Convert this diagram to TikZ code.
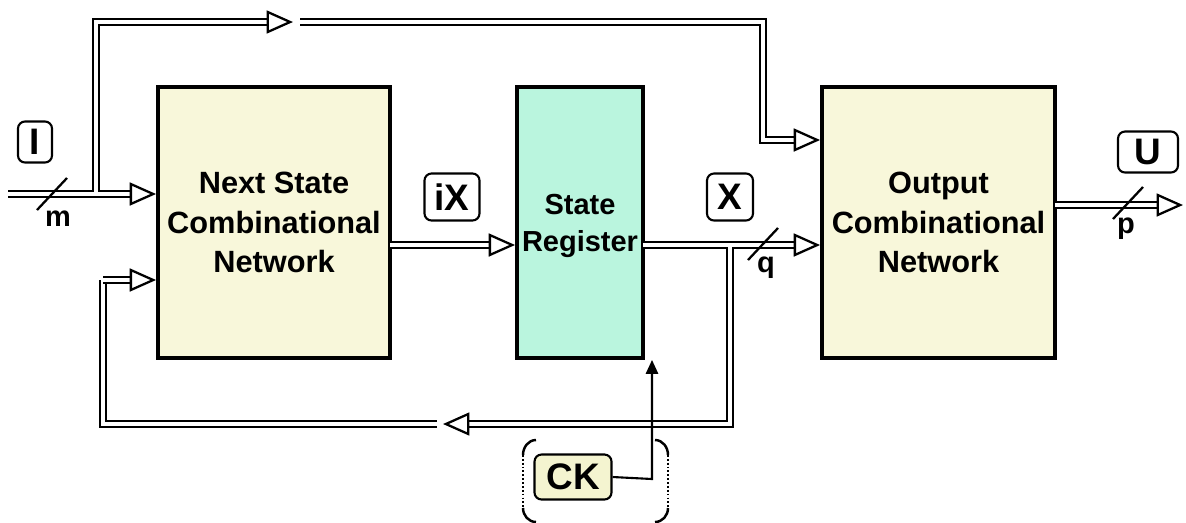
\documentclass[tikz,border=0pt]{standalone}
\usepackage{fontspec}
\setmainfont{Liberation Sans}
\usetikzlibrary{arrows.meta,calc,positioning}

\definecolor{combfill}{RGB}{248,247,218}
\definecolor{regfill}{RGB}{186,245,222}
\definecolor{ckfill}{RGB}{244,244,208}

\tikzset{
  blockbox/.style={draw,line width=2.2pt,minimum height=5.42cm,align=center,
    font=\fontsize{17.5}{22.5}\selectfont\bfseries},
  tag/.style={draw,line width=1.2pt,rounded corners=4pt,fill=white,inner sep=0pt,
    minimum height=0.86cm,font=\fontsize{21}{24}\selectfont\bfseries},
  busline/.style={line width=1.35pt,double=white,double distance=1.8pt},
  bus/.style={busline,-{Triangle[fill=white,length=15pt,width=13pt,line width=1.3pt]}},
  clk/.style={line width=1.2pt,-{Triangle[length=8pt,width=7pt]}},
  slash/.style={line width=1.3pt},
  buswidth/.style={font=\fontsize{16.5}{18}\selectfont\bfseries,inner sep=0pt},
  bracket/.style={line width=1.4pt}
}

\begin{document}
\begin{tikzpicture}[x=0.02cm,y=-0.02cm]
    \useasboundingbox (0,0) rectangle (1186,522);

    % blocks
    \node[blockbox,fill=combfill,minimum width=4.64cm] (nsc) at (274,222.5) {Next State\\Combinational\\Network};
    \node[blockbox,fill=regfill,minimum width=2.52cm] (sr) at (580,222.5) {};
    \node[align=center,font=\fontsize{16.5}{21.5}\selectfont\bfseries] (srtext) at (580,226) {State\\Register};
    \node[blockbox,fill=combfill,minimum width=4.66cm] (ocn) at (938.5,222.5) {Output\\Combinational\\Network};

    % input bus and the branch over the top
    \coordinate (in) at (8,194);
    \coordinate (tap) at (96,194);
    \coordinate (brk) at (293,22);
    \coordinate (brk2) at (300,22);
    \coordinate (drop) at (763,140);
    \draw[bus] (in) -- (nsc.west |- in);
    \draw[bus] (tap) |- (brk);
    \fill[white] ($(tap)+(-2.2pt,-0.9pt)$) rectangle ($(tap)+(2.2pt,0.9pt)$);
    \draw[bus] (brk2) -| (drop) -- (ocn.west |- drop);

    % next state to register
    \coordinate (ix) at (390,245);
    \draw[bus] (ix) -- (sr.west |- ix);

    % state to output, feedback
    \coordinate (xo) at (643,245);
    \coordinate (fb) at (730,245);
    \coordinate (fbl) at (443,424);
    \coordinate (fbl2) at (437,424);
    \coordinate (fbin) at (103,280);
    \draw[bus] (xo) -- (ocn.west |- xo);
    \draw[bus] (fb) |- (fbl);
    \fill[white] ($(fb)+(-2.2pt,-0.9pt)$) rectangle ($(fb)+(2.2pt,0.9pt)$);
    \draw[busline] (fbl2) -| (fbin);
    \draw[bus] (fbin) -- (nsc.west |- fbin);

    % output bus
    \coordinate (uo) at (1055,205);
    \coordinate (uend) at (1183,205);
    \draw[bus] (uo) -- (uend);

    % bus widths
    \coordinate (ms) at (52,194);
    \coordinate (qs) at (763,244);
    \coordinate (ps) at (1128,203);
    \foreach \s in {ms,qs,ps}
      \draw[slash] ($(\s)+(-15,16)$) -- ($(\s)+(15,-16)$);
    \node[buswidth] (m) at (58,219) {m};
    \node[buswidth] (q) at (766,268) {q};
    \node[buswidth] (p) at (1126,229) {p};

    % tags
    \node[tag,minimum width=0.68cm,minimum height=0.82cm] (tI) at (35,142) {I};
    \node[tag,minimum width=1.1cm,minimum height=0.94cm] (tiX) at (452,197) {iX};
    \node[tag,minimum width=0.92cm,minimum height=0.94cm] (tX) at (730,197) {X};
    \node[tag,minimum width=1.2cm,minimum height=0.82cm] (tU) at (1148,152) {U};

    % clock
    \node[tag,fill=ckfill,minimum width=1.54cm,minimum height=0.9cm] (ck) at (573,477) {CK};
    \coordinate (ckc) at (652,479);
    \draw[clk] (ck.east) -- (ckc) -- (ckc |- sr.south);

    \draw[bracket] (536,440) to[out=180,in=90] (523,455);
    \draw[bracket,dash pattern=on 1pt off 1.2pt] (523,455) -- (523,508);
    \draw[bracket] (523,508) to[out=-90,in=180] (536,522);
    \draw[bracket] (655,440) to[out=0,in=90] (668,455);
    \draw[bracket,dash pattern=on 1pt off 1.2pt] (668,455) -- (668,508);
    \draw[bracket] (668,508) to[out=-90,in=0] (655,522);
\end{tikzpicture}
\end{document}
